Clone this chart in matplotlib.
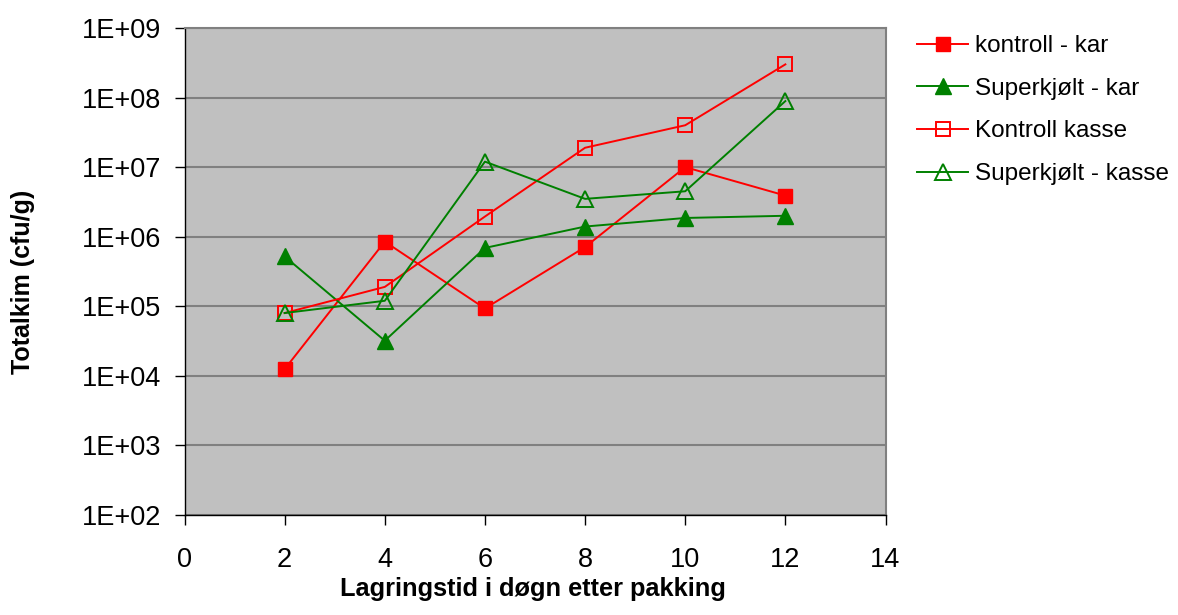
import math
import matplotlib
matplotlib.use("Agg")
import matplotlib.pyplot as plt
from matplotlib.ticker import FixedLocator, FuncFormatter, NullLocator

plt.rcParams['font.family'] = ['Liberation Sans', 'DejaVu Sans']

days = [2, 4, 6, 8, 10, 12]
kontroll_kar = [1.25e4, 8.5e5, 9.3e4, 7.1e5, 1.0e7, 3.9e6]
superkjolt_kar = [5.2e5, 3.2e4, 6.9e5, 1.4e6, 1.86e6, 2.0e6]
kontroll_kasse = [8.0e4, 1.9e5, 1.95e6, 1.9e7, 4.0e7, 3.0e8]
superkjolt_kasse = [8.0e4, 1.2e5, 1.2e7, 3.5e6, 4.5e6, 8.9e7]

series_labels = ["kontroll - kar", "Superkjølt - kar", "Kontroll kasse", "Superkjølt - kasse"]
x_ticks = [0, 2, 4, 6, 8, 10, 12, 14]
y_ticks = [1e2, 1e3, 1e4, 1e5, 1e6, 1e7, 1e8, 1e9]
x_label = "Lagringstid i døgn etter pakking"
y_label = "Totalkim (cfu/g)"

RED = "#FF0000"
GREEN = "#008000"

fig = plt.figure(figsize=(11.78, 6.15), dpi=100)
ax = fig.add_axes([184.5/1178, 1-515/615, 701/1178, 487/615])
ax.set_facecolor("#C0C0C0")

lw = 1.4
ms = 10
ax.plot(days, kontroll_kar, color=RED, lw=lw, marker="s", ms=ms, mfc=RED, mec=RED,
        label=series_labels[0], zorder=3)
ax.plot(days, superkjolt_kar, color=GREEN, lw=lw, marker="^", ms=ms+1, mfc=GREEN, mec=GREEN,
        label=series_labels[1], zorder=3)
ax.plot(days, kontroll_kasse, color=RED, lw=lw, marker="s", ms=ms, mfc="none", mec=RED, mew=1.4,
        label=series_labels[2], zorder=3)
ax.plot(days, superkjolt_kasse, color=GREEN, lw=lw, marker="^", ms=ms+1, mfc="none", mec=GREEN, mew=1.4,
        label=series_labels[3], zorder=3)

ax.set_yscale("log")
ax.set_ylim(y_ticks[0], y_ticks[-1])
ax.set_xlim(x_ticks[0], x_ticks[-1])
ax.yaxis.set_major_locator(FixedLocator(y_ticks))
ax.yaxis.set_minor_locator(NullLocator())
ax.yaxis.set_major_formatter(FuncFormatter(lambda v, p: "1E+%02d" % round(math.log10(v))))
ax.set_xticks(x_ticks)
ax.set_xticklabels([str(t) for t in x_ticks])

ax.grid(axis="y", color="#808080", lw=1.5, zorder=1)
ax.set_axisbelow(True)
for s in ["top", "right"]:
    ax.spines[s].set_color("#808080")
    ax.spines[s].set_linewidth(1.5)
for s in ["left", "bottom"]:
    ax.spines[s].set_color("black")
    ax.spines[s].set_linewidth(1.0)

ax.tick_params(axis="y", direction="out", length=7, width=1, labelsize=19.5, pad=10)
ax.tick_params(axis="x", direction="out", length=7, width=1, labelsize=19.5, pad=16)

ax.set_xlabel(x_label, fontsize=18.3, fontweight="bold", va="center")
ax.xaxis.set_label_coords((532.5-184.5)/701, (515-589)/487)
ax.set_ylabel(y_label, fontsize=18, fontweight="bold", va="center")
ax.yaxis.set_label_coords((23-184.5)/701, (515-281.5)/487)

fig.legend(loc="upper left", bbox_to_anchor=(917/1178, 1-35/615), frameon=False,
           fontsize=17.5, handlelength=2.1, handletextpad=0.3, labelspacing=0.85,
           borderpad=0, borderaxespad=0)

fig.savefig("out.png", dpi=100, facecolor="white")
